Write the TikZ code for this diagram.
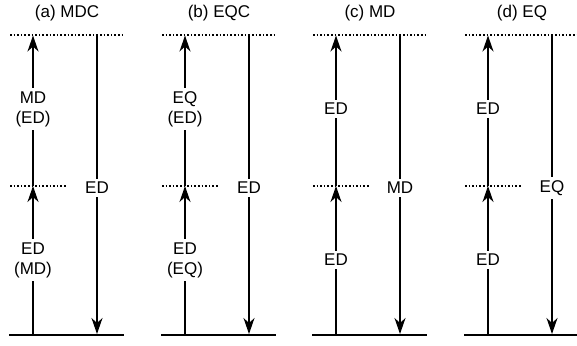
\documentclass[tikz,border=0pt]{standalone}
\usepackage{fontspec}
\setmainfont{Liberation Sans}
\usetikzlibrary{arrows.meta}
\tikzset{
  level/.style={line width=1.4pt, dash pattern=on 1.6pt off 2pt},
  ground/.style={line width=2pt},
  trans/.style={line width=1.5pt, -{Stealth[length=16pt,width=11pt,inset=5pt]}},
  lbl/.style={fill=white, inner xsep=1pt, inner ysep=3pt, font=\fontsize{17}{20}\selectfont, align=center},
  ttl/.style={font=\fontsize{17}{20}\selectfont}
}
\begin{document}
\begin{tikzpicture}[x=1pt,y=-1pt]
\useasboundingbox (0,0) rectangle (577,345);
% panel: left edge, title, lower label, upper label, down label
\foreach \L/\ttext/\lo/\hi/\dn [count=\i] in {
  10/{(a) MDC}/{ED\\(MD)}/{MD\\(ED)}/ED,
  162/{(b) EQC}/{ED\\(EQ)}/{EQ\\(ED)}/ED,
  313/{(c) MD}/ED/ED/MD,
  465/{(d) EQ}/ED/ED/EQ}{
  % levels
  \coordinate (tl\i) at (\L,35);
  \coordinate (tr\i) at (\L+114,35);
  \coordinate (ml\i) at (\L,186);
  \coordinate (mr\i) at (\L+57,186);
  \coordinate (bl\i) at (\L-1,335);
  \coordinate (br\i) at (\L+114,335);
  \draw[level] (tl\i) -- (tr\i);
  \draw[level] (ml\i) -- (mr\i);
  \draw[ground] (bl\i) -- (br\i);
  % absorption steps
  \coordinate (u0\i) at (\L+23,335);
  \coordinate (u1\i) at (\L+23,186);
  \coordinate (u2\i) at (\L+23,35.5);
  \draw[trans] (u0\i) -- (u1\i);
  \draw[trans] (u1\i) -- (u2\i);
  % emission
  \coordinate (d0\i) at (\L+87,35);
  \coordinate (d1\i) at (\L+87,334);
  \draw[trans] (d0\i) -- (d1\i);
  % labels
  \node[lbl] (lo\i) at (\L+23,260) {\lo};
  \node[lbl] (hi\i) at (\L+23,109) {\hi};
  \node[lbl] (dn\i) at (\L+87,188) {\dn};
  \node[ttl] (t\i) at (\L+57,13) {\ttext};
}
\end{tikzpicture}
\end{document}
